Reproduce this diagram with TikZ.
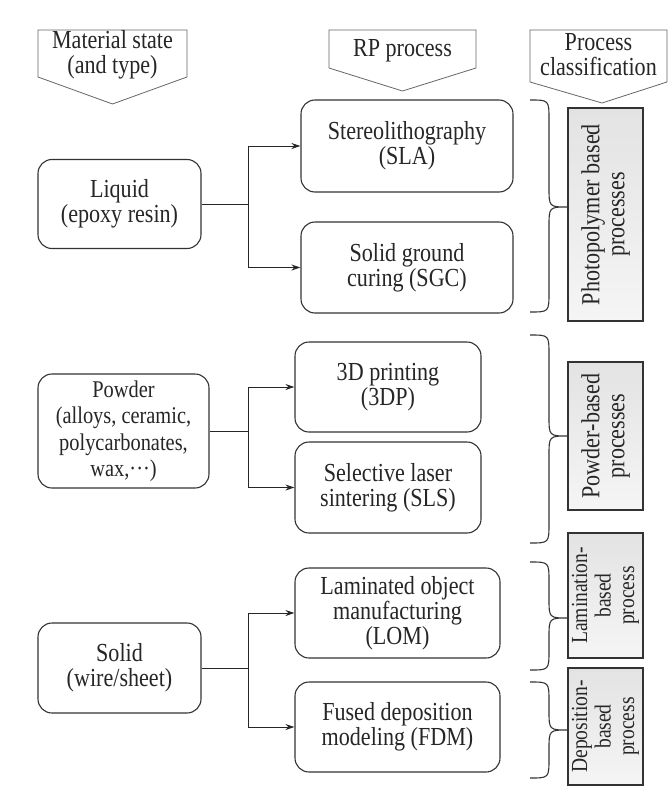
\documentclass[tikz,border=0pt]{standalone}
\usepackage{fontspec}
\setmainfont{Liberation Serif}[FakeStretch=0.85]
\usetikzlibrary{arrows.meta,calc}
\begin{document}
\begin{tikzpicture}[x=1pt,y=-1pt,
  txt/.style={font=\fontsize{26}{25}\selectfont, text=black!85, align=center, inner sep=0pt},
  rbox/.style={txt, draw=black!80, line width=1.1pt, rounded corners=14pt, fill=white},
  cbox/.style={draw=black!80, line width=1.1pt, top color=black!11, bottom color=black!4,
     font=\fontsize{26}{25}\selectfont, text=black!85, align=center, inner sep=0pt, rotate=90, minimum height=75pt},
  cboxs/.style={cbox, font=\fontsize{23}{23.5}\selectfont},
  pent/.style={draw=black!60, line width=0.8pt, fill=white},
  brc/.style={draw=black!80, line width=1.1pt},
  lnk/.style={draw=black!85, line width=1pt},
  arr/.style={lnk, -{Stealth[length=9pt,width=6pt]}}
]
\useasboundingbox (0,0) rectangle (670,787);

% headers
\draw[pent] (38,30) -- (187,30) -- (187,77) -- (112.5,104) -- (38,77) -- cycle;
\node[txt] (h1) at (112.5,55) {Material state\\(and type)};
\draw[pent] (329,30) -- (476,30) -- (476,68) -- (402.5,91) -- (329,68) -- cycle;
\node[txt] (h2) at (402.5,51) {RP process};
\draw[pent] (530,30) -- (667,30) -- (667,82) -- (602,103) -- (530,82) -- cycle;
\node[txt] (h3) at (598.5,55) {Process\\classification};

% material boxes
\node[rbox, minimum width=163pt, minimum height=89pt] (liq) at (119.5,204) {Liquid\\(epoxy resin)};
\node[rbox, minimum width=171pt, minimum height=114pt, font=\fontsize{24}{26.5}\selectfont] (pow) at (123.5,431) {Powder\\(alloys, ceramic,\\polycarbonates,\\wax,···)};
\node[rbox, minimum width=163pt, minimum height=90pt] (sol) at (119.5,668) {Solid\\(wire/sheet)};

% process boxes
\node[rbox, minimum width=212pt, minimum height=92pt] (sla) at (407,146) {Stereolithography\\(SLA)};
\node[rbox, minimum width=212pt, minimum height=91pt] (sgc) at (407,267.5) {Solid ground\\curing (SGC)};
\node[rbox, minimum width=186pt, minimum height=90pt] (tdp) at (388,387) {3D printing\\(3DP)};
\node[rbox, minimum width=186pt, minimum height=91pt] (sls) at (388,487.5) {Selective laser\\sintering (SLS)};
\node[rbox, minimum width=205pt, minimum height=90pt] (lom) at (397.5,613) {Laminated object\\manufacturing\\(LOM)};
\node[rbox, minimum width=205pt, minimum height=90pt] (fdm) at (397.5,727) {Fused deposition\\modeling (FDM)};

% junctions
\coordinate (j1) at (248,204);
\coordinate (j2) at (248,431);
\coordinate (j3) at (248,668);
\draw[lnk] (liq.east) -- (j1);
\draw[arr] (j1) |- (sla.west);
\draw[arr] (j1) |- (sgc.west);
\draw[lnk] (pow.east) -- (j2);
\draw[arr] (j2) |- (tdp.west);
\draw[arr] (j2) |- (sls.west);
\draw[lnk] (sol.east) -- (j3);
\draw[arr] (j3) |- (lom.west);
\draw[arr] (j3) |- (fdm.west);

% classification boxes
\node[cbox, minimum width=213pt] (c1) at (605.5,214.5) {Photopolymer based\\processes};
\node[cbox, minimum width=148pt] (c2) at (605.5,436) {Powder-based\\processes};
\node[cboxs, minimum width=125pt] (c3) at (605.5,595.5) {Lamination-\\based\\process};
\node[cboxs, minimum width=117pt] (c4) at (605.5,726.5) {Deposition-\\based\\process};

% braces
\draw[brc] (530,100) .. controls (549,100) .. (549,120) -- (549,187) .. controls (549,207) .. (568,207)
  .. controls (549,207) .. (549,227) -- (549,292) .. controls (549,312) .. (530,312);
\draw[brc] (530,335) .. controls (549,335) .. (549,355) -- (549,416) .. controls (549,436) .. (568,436)
  .. controls (549,436) .. (549,456) -- (549,523) .. controls (549,543) .. (530,543);
\draw[brc] (530,562) .. controls (549,562) .. (549,582) -- (549,598) .. controls (549,618) .. (568,618)
  .. controls (549,618) .. (549,638) -- (549,650) .. controls (549,670) .. (530,670);
\draw[brc] (530,682) .. controls (549,682) .. (549,702) -- (549,710) .. controls (549,730) .. (568,730)
  .. controls (549,730) .. (549,750) -- (549,758) .. controls (549,778) .. (530,778);
\end{tikzpicture}
\end{document}
